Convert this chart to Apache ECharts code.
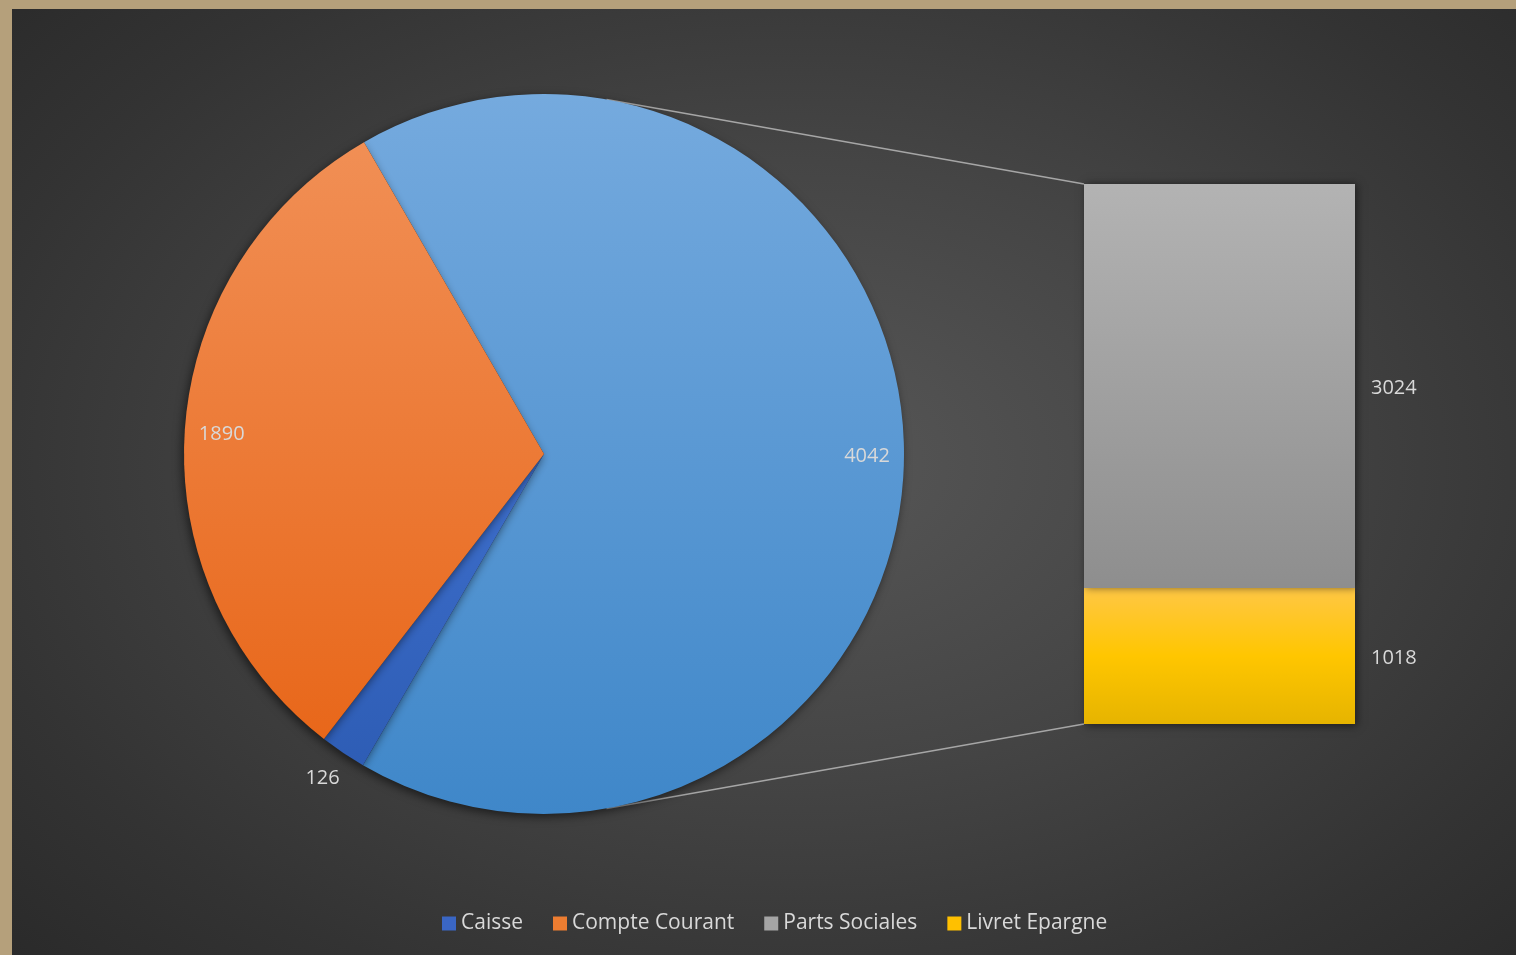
<!DOCTYPE html>
<html>
<head>
<meta charset="utf-8">
<script src="https://cdn.jsdelivr.net/npm/echarts@6/dist/echarts.min.js"></script>
<style>
  html, body { margin: 0; padding: 0; width: 1516px; height: 955px; overflow: hidden; background: #b5a07b; }
  #chart {
    position: absolute; left: 12px; top: 9px; width: 1504px; height: 946px;
    background: radial-gradient(ellipse 75% 80% at 52% 48%, #575757 0%, #454545 40%, #333333 75%, #282828 100%);
  }
</style>
</head>
<body>
<div id="chart"></div>
<script>
// ---- data ----
const pieCategories = ['Caisse', 'Compte Courant'];
const pieValues = [126, 1890];
const barCategories = ['Parts Sociales', 'Livret Epargne'];
const barValues = [3024, 1018];
const otherName = 'Autre';
const legendItems = ['Caisse', 'Compte Courant', 'Parts Sociales', 'Livret Epargne'];

// ---- layout / style ----
const CX = 532, CY = 445, R = 360;
const START = 120;
const GRID = { left: 1072, width: 271, top: 175, bottom: 231 };
const labelColor = '#d9d9d9';
const FONT = 'Open Sans';

function vgrad(top, bottom, mid) {
  const stops = mid ? [{offset:0,color:top},{offset:0.5,color:mid},{offset:1,color:bottom}]
                    : [{offset:0,color:top},{offset:1,color:bottom}];
  return new echarts.graphic.LinearGradient(0, 0, 0, 1, stops);
}
const colors = {
  'Caisse': { fill: vgrad('#3d6ecb', '#2e5db5'), solid: '#3a66c4' },
  'Compte Courant': { fill: vgrad('#f18f55', '#e8671a'), solid: '#ed7d31' },
  'Parts Sociales': { fill: vgrad('#b3b3b3', '#8e8e8e'), solid: '#a5a5a5' },
  'Livret Epargne': { fill: vgrad('#ffc745', '#e6b400', '#ffc600'), solid: '#ffc000' },
  [otherName]: { fill: vgrad('#75aade', '#3f87c9') }
};

const otherValue = barValues.reduce((a, b) => a + b, 0);
const pieNames = [otherName, pieCategories[0], pieCategories[1]];
const pieVals = [otherValue, pieValues[0], pieValues[1]];

const mainPieData = pieNames.map((n, i) => ({ name: n, value: pieVals[i], itemStyle: { color: colors[n].fill } }));

function labelData(showFn) {
  return pieNames.map((n, i) => ({
    name: n, value: pieVals[i],
    itemStyle: { color: 'rgba(0,0,0,0)' },
    label: { show: showFn(n) }
  }));
}
const baseLabel = { position: 'inside', color: labelColor, fontSize: 20, fontFamily: FONT, formatter: '{c}' };

const chart = echarts.init(document.getElementById('chart'));
const option = {
  backgroundColor: 'transparent',
  animation: false,
  legend: {
    bottom: 21, left: 430, padding: 0,
    itemWidth: 14, itemHeight: 14, itemGap: 30,
    icon: 'rect',
    textStyle: { color: labelColor, fontSize: 21, fontFamily: FONT },
    data: legendItems.map(n => ({ name: n, itemStyle: { color: colors[n].solid } })),
    selectedMode: false
  },
  grid: { left: GRID.left, width: GRID.width, top: GRID.top, bottom: GRID.bottom, containLabel: false },
  xAxis: { type: 'category', data: [otherName], show: false },
  yAxis: { type: 'value', min: 0, max: otherValue, show: false, splitLine: { show: false } },
  series: [
    {
      name: 'main', type: 'pie', center: [CX, CY], radius: [0, R], startAngle: START, clockwise: true,
      avoidLabelOverlap: false, silent: true,
      label: { show: false }, labelLine: { show: false },
      itemStyle: { borderWidth: 0, shadowBlur: 10, shadowColor: 'rgba(0,0,0,0.55)', shadowOffsetX: -2, shadowOffsetY: 3 },
      data: mainPieData
    },
    {
      name: 'labelsInside', type: 'pie', center: [CX, CY + 2], radius: [282, R - 2], startAngle: START, clockwise: true,
      silent: true, avoidLabelOverlap: false, labelLine: { show: false },
      label: baseLabel, emphasis: { disabled: true },
      data: labelData(n => n !== 'Caisse')
    },
    {
      name: 'labelsOutside', type: 'pie', center: [CX - 2, CY - 2], radius: [R, 420], startAngle: START, clockwise: true,
      silent: true, avoidLabelOverlap: false, labelLine: { show: false },
      label: baseLabel, emphasis: { disabled: true },
      data: labelData(n => n === 'Caisse')
    },
    {
      name: barCategories[1], type: 'bar', stack: 'other', barWidth: '100%',
      data: [barValues[1]],
      itemStyle: { color: colors[barCategories[1]].fill, shadowBlur: 8, shadowColor: 'rgba(0,0,0,0.5)', shadowOffsetX: 2, shadowOffsetY: 2 },
      label: { show: true, position: 'right', distance: 16, color: labelColor, fontSize: 20, fontFamily: FONT, offset: [0, 2] }
    },
    {
      name: barCategories[0], type: 'bar', stack: 'other', barWidth: '100%',
      data: [barValues[0]],
      itemStyle: { color: colors[barCategories[0]].fill, shadowBlur: 8, shadowColor: 'rgba(0,0,0,0.5)', shadowOffsetX: 2, shadowOffsetY: 0 },
      label: { show: true, position: 'right', distance: 16, color: labelColor, fontSize: 20, fontFamily: FONT, offset: [0, 2] }
    }
  ]
};
chart.setOption(option);

// connector lines from pie edge to bar corners
const ANG = 10 * Math.PI / 180;
const topPt = chart.convertToPixel({ gridIndex: 0 }, [0, otherValue]);
const botPt = chart.convertToPixel({ gridIndex: 0 }, [0, 0]);
const px = CX + R * Math.sin(ANG);
const pyTop = CY - R * Math.cos(ANG);
const pyBot = CY + R * Math.cos(ANG);
chart.setOption({
  graphic: [
    { type: 'line', z: 1, shape: { x1: px, y1: pyTop, x2: GRID.left, y2: topPt[1] }, style: { stroke: '#a6a6a6', lineWidth: 1.5 } },
    { type: 'line', z: 1, shape: { x1: px, y1: pyBot, x2: GRID.left, y2: botPt[1] }, style: { stroke: '#a6a6a6', lineWidth: 1.5 } }
  ]
});
</script>
</body>
</html>
